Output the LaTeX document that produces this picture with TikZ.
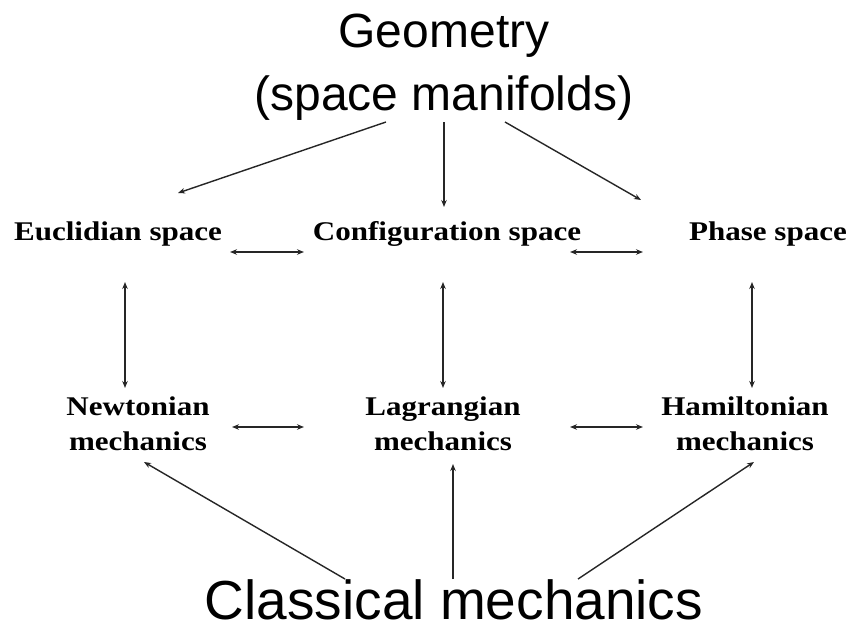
\documentclass[tikz,border=0pt]{standalone}
\usepackage{fontspec}
\setmainfont{Liberation Serif}
\newfontfamily\sansf{Liberation Sans}
\newfontfamily\labf{Liberation Serif}[FakeStretch=1.15]
\usetikzlibrary{arrows.meta}
\begin{document}
\begin{tikzpicture}[x=1pt,y=-1pt,
  title/.style={font=\sansf\fontsize{48}{63}\selectfont, align=center, inner sep=0pt},
  big/.style={font=\sansf\fontsize{55}{64}\selectfont, inner sep=0pt},
  lab/.style={font=\labf\bfseries\fontsize{27}{35}\selectfont, align=center, inner sep=0pt},
  arr/.style={-{Stealth[length=7pt,width=5.5pt]}, line width=1.4pt, draw=black!85},
  darr/.style={{Stealth[length=7pt,width=5.5pt]}-{Stealth[length=7pt,width=5.5pt]}, line width=1.4pt, draw=black!85}]
\fill[white] (0,0) rectangle (852,629);
\useasboundingbox (0,0) rectangle (852,629);
% nodes
\node[title, anchor=base] (geo) at (444,110) {Geometry\\(space manifolds)};
\node[big, anchor=base] (cm) at (454,619) {Classical mechanics};
\node[lab, anchor=base] (eu) at (118,240) {Euclidian space};
\node[lab, anchor=base] (cs) at (447,240) {Configuration space};
\node[lab, anchor=base] (ps) at (768,240) {Phase space};
\node[lab] (nm) at (138,424) {Newtonian\\mechanics};
\node[lab] (lm) at (443,424) {Lagrangian\\mechanics};
\node[lab] (hm) at (745,424) {Hamiltonian\\mechanics};
% connector end points
\coordinate (g1) at (386,122); \coordinate (e1) at (178,193);
\coordinate (g2) at (444,122); \coordinate (c1) at (444,207);
\coordinate (g3) at (505,122); \coordinate (p1) at (641,200);
\coordinate (ec1) at (230,252); \coordinate (ec2) at (304,252);
\coordinate (cp1) at (570,252); \coordinate (cp2) at (643,252);
\coordinate (ev1) at (125,282); \coordinate (ev2) at (125,388);
\coordinate (cv1) at (443,282); \coordinate (cv2) at (443,388);
\coordinate (pv1) at (752,282); \coordinate (pv2) at (752,388);
\coordinate (nl1) at (232,427); \coordinate (nl2) at (304,427);
\coordinate (lh1) at (570,427); \coordinate (lh2) at (643,427);
\coordinate (m1) at (345,579); \coordinate (n1) at (144,462);
\coordinate (m2) at (453,579); \coordinate (l1) at (453,464);
\coordinate (m3) at (578,579); \coordinate (h1) at (754,462);
% connectors
\draw[arr] (g1) -- (e1);
\draw[arr] (g2) -- (c1);
\draw[arr] (g3) -- (p1);
\draw[darr] (ec1) -- (ec2);
\draw[darr] (cp1) -- (cp2);
\draw[darr] (ev1) -- (ev2);
\draw[darr] (cv1) -- (cv2);
\draw[darr] (pv1) -- (pv2);
\draw[darr] (nl1) -- (nl2);
\draw[darr] (lh1) -- (lh2);
\draw[arr] (m1) -- (n1);
\draw[arr] (m2) -- (l1);
\draw[arr] (m3) -- (h1);
\end{tikzpicture}
\end{document}
